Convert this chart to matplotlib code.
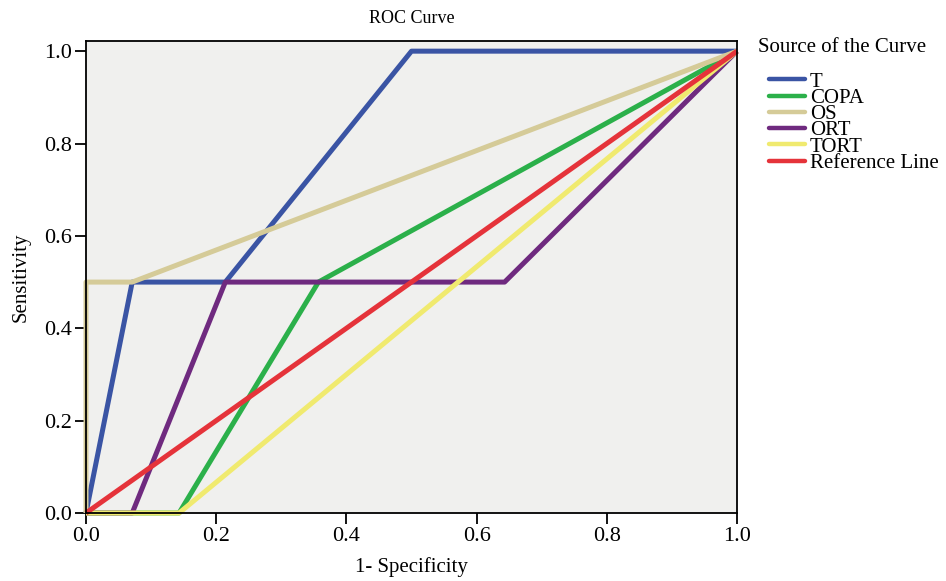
import matplotlib
matplotlib.use("Agg")
import matplotlib.pyplot as plt

plt.rcParams['font.family'] = ['Liberation Serif', 'DejaVu Serif']

names = ["T", "COPA", "OS", "ORT", "TORT", "Reference Line"]
colors = ["#3a54a4", "#2bb04a", "#d5cb98", "#6f2a7f", "#f0ea6f", "#e5333a"]
t_x = [0.0, 0.071, 0.214, 0.5, 1.0]
t_y = [0.0, 0.5, 0.5, 1.0, 1.0]
copa_x = [0.0, 0.143, 0.357, 1.0]
copa_y = [0.0, 0.0, 0.5, 1.0]
os_x = [0.0, 0.0, 0.071, 1.0]
os_y = [0.0, 0.5, 0.5, 1.0]
ort_x = [0.0, 0.071, 0.214, 0.643, 1.0]
ort_y = [0.0, 0.0, 0.5, 0.5, 1.0]
tort_x = [0.0, 0.143, 1.0]
tort_y = [0.0, 0.0, 1.0]
ref_x = [0.0, 1.0]
ref_y = [0.0, 1.0]
series_x = [t_x, copa_x, os_x, ort_x, tort_x, ref_x]
series_y = [t_y, copa_y, os_y, ort_y, tort_y, ref_y]

fig = plt.figure(figsize=(9.46, 5.81), dpi=100)
ax = fig.add_axes([86/946, 1-513/581, (737-86)/946, (513-41)/581])
ax.set_facecolor("#f0f0ee")

for xs, ys, c, n in zip(series_x, series_y, colors, names):
    ax.plot(xs, ys, color=c, lw=3.6, label=n, solid_capstyle='butt', clip_on=False)

ax.set_xlim(0, 1)
ax.set_ylim(0, 1.022)
ticks = [0.0, 0.2, 0.4, 0.6, 0.8, 1.0]
ax.set_xticks(ticks)
ax.set_yticks(ticks)
ax.set_xticklabels([f"{t:.1f}" for t in ticks])
ax.set_yticklabels([f"{t:.1f}" for t in ticks])
ax.tick_params(direction='out', length=8, width=1.3, labelsize=16, pad=2)
for s in ax.spines.values():
    s.set_linewidth(1.3)
    s.set_color("black")

ax.set_title("ROC Curve", fontsize=13, pad=13)
ax.set_xlabel("1- Specificity", fontsize=15, labelpad=8)
ax.set_ylabel("Sensitivity", fontsize=15, labelpad=10)

fig.text(758/946, 1-48/581, "Source of the Curve", fontsize=15, ha='left', va='center')
handles, labels = ax.get_legend_handles_labels()
leg = fig.legend(handles, labels, loc='upper left', bbox_to_anchor=(769/946, 1-72/581),
                 frameon=False, fontsize=15,
                 handlelength=1.73, handletextpad=0.24, labelspacing=-0.16,
                 borderaxespad=0, borderpad=0)
for h in leg.get_lines():
    h.set_linewidth(3.2)
    h.set_solid_capstyle('round')

fig.savefig("out.png", dpi=100)
